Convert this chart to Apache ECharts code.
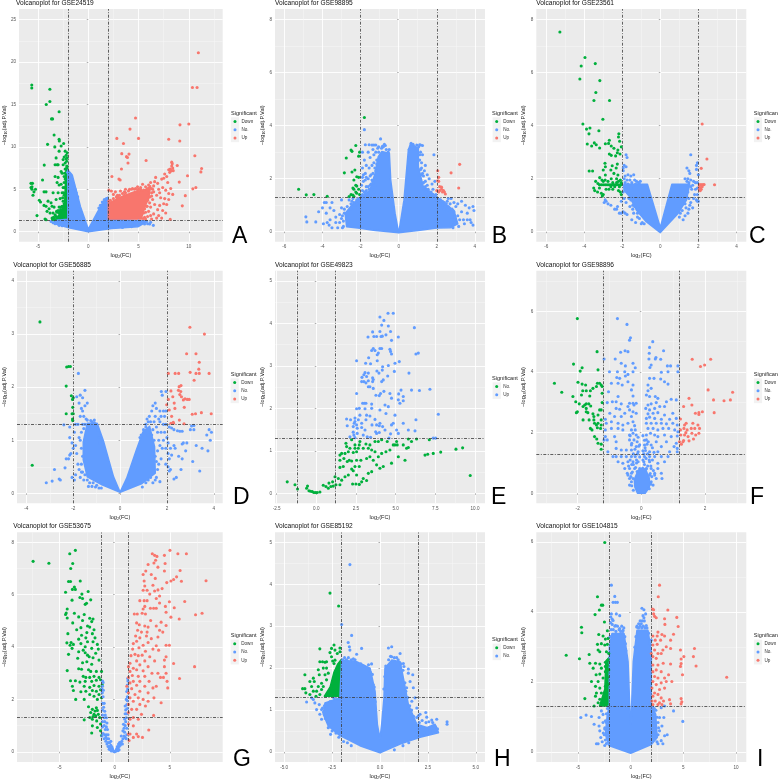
<!DOCTYPE html>
<html><head><meta charset="utf-8">
<style>html,body{margin:0;padding:0;background:#fff}#c{width:778px;height:780px}</style>
<script src="https://cdn.jsdelivr.net/npm/echarts@6/dist/echarts.min.js"></script></head>
<body><div id="c"></div>
<script>
// ---------- Ticks ----------
const xTicksA=[-5,0,5,10], yTicksA=[0,5,10,15,20,25];
const xTicksB=[-6,-4,-2,0,2,4], yTicksB=[0,2,4,6,8];
const xTicksC=[-6,-4,-2,0,2,4], yTicksC=[0,2,4,6,8];
const xTicksD=[-4,-2,0,2,4], yTicksD=[0,1,2,3,4];
const xTicksE=[-2.5,0,2.5,5,7.5,10], yTicksE=[0,1,2,3,4,5];
const xTicksF=[-2,0,2], yTicksF=[0,2,4,6];
const xTicksG=[-5,0,5], yTicksG=[0,2,4,6,8];
const xTicksH=[-5,-2.5,0,2.5,5], yTicksH=[0,1,2,3,4,5];
const xTicksI=[-5,0,5,10], yTicksI=[0,2,4,6];
// ---------- Panel A ----------
const aDown=[[-5.62,17.3],[-5.62,16.95],[-3.82,16.8],[-3.82,15.35],[-4.18,15],[-2.9,14.15],[-3.66,13.3],[-3.55,13.3],[-3.4,11.4],[-2.9,10.9],[-2.88,10.7],[-4.05,10.3],[-3.33,10],[-4.38,7.85],[-3.3,7.9],[-3.1,7.9],[-3,7.9],[-4.55,6.1],[-5.7,5.7],[-5.55,5.7],[-5.7,5.2],[-5.6,5.3],[-5.6,5],[-5.25,5],[-5.4,4.7],[-5.5,4.3],[-5.1,1.9],[-4.4,4.7],[-4.2,4.7],[-4.87,3.7],[-4.75,3.5],[-4.4,3.1],[-4.2,3],[-4,3.6],[-3.7,3.4],[-3.5,4.6],[-3.6,3],[-3.9,2.7],[-4.1,2.4],[-3.8,2.2],[-3.4,2.9],[-3.5,2.2],[-4.3,1.5],[-4.2,1.4],[-3.6,1.6],[-3.4,1.4],[-3.2,3.8],[-3,4.6],[-2.9,5.5],[-3.1,5.8],[-3.3,6.5],[-3,6.4],[-2.7,7.1],[-2.5,7.9],[-2.4,8.8],[-2.3,9.5],[-2.2,9],[-2.1,9.3],[-2.5,8.5],[-2.3,8.1],[-2.6,6.9],[-2.4,6.5],[-2.7,5.6],[-2.5,5.2],[-2.6,4.6],[-2.4,4.3],[-2.8,3.9],[-2.5,3.6],[-2.6,3],[-2.9,2.9],[-2.4,2.8],[-3.1,2.3],[-2.8,2.4],[-2.7,10.1],[-2.45,10.4],[-2.9,9.5],[-3.2,8.7],[-3.5,1.5],[-3.45,1.7],[-3.3,2],[-3.2,1.8],[-3.4,1.6],[-3.15,2.4],[-3,2.5],[-2.9,2.2],[-2.75,2.6],[-2.7,2.9],[-2.5,3],[-2.4,3.3],[-2.55,4],[-2.45,4.6],[-2.35,5.2],[-2.4,5.8],[-2.3,6.2],[-2.35,6.9],[-2.3,7.4],[-2.15,8.3],[-2.1,8.7],[-2.2,8.6],[-3.3,1.4],[-3.55,1.4]];
const aDownRegion=[[-3.3,1.35],[-2.05,1.35],[-2.05,7.8],[-2.2,7.8],[-2.35,3.2],[-2.9,2]];
const aNo=[[6.47,0.75],[5.2,1.1],[-3.5,1.05],[-3.7,1.2],[5.6,0.9],[4.6,0.75],[-2.05,7],[-1.9,6.9],[-1.8,6.75],[-1.7,6.5],[-1.65,6.1],[-1.45,5.5],[-1.3,5],[-1.2,4.6],[-1.05,4.1],[1.8,3.9],[1.6,3.8],[1.4,3.5],[1.2,3.1],[1.05,2.8],[-3,1.25],[-3.2,1.2],[-2.7,1.2],[-3.3,0.95],[-2.6,0.7],[-2.9,0.75],[4.5,1.2],[5,1.25],[5.5,1.15],[5.7,1.2],[6.2,1.1],[3.6,0.75],[3.9,0.7],[4.3,0.6],[4.6,0.85],[3.4,0.5],[5.9,0.95],[6.1,0.9]];
const aNoRegion=[[-2.03,7.27],[-1.6,6.68],[-0.78,2.95],[0,0.28],[0.85,2.16],[1.5,3.54],[1.93,4.05],[1.93,1.45],[3.95,1.38],[5.9,1.26],[4.93,0.59],[2.32,0.39],[0,0],[-1.93,0.47],[-3.24,0.9],[-3.4,1.3],[-2.03,1.45]];
const aUp=[[10.95,21.1],[10.36,17],[10.82,17],[4.7,13.4],[9.12,12.6],[10,12.7],[4.15,12.1],[2.84,11],[5,11],[3.5,10.4],[8,10.9],[9.1,10.7],[3.33,9.2],[3.8,8.85],[4.05,9.15],[3.9,8.75],[3.95,8.1],[5.75,8.4],[10.6,8.95],[3.3,7.4],[8.85,7.8],[11.27,7.45],[11.2,7.05],[9.87,6.6],[2.35,6.5],[3.05,6.2],[3.17,6.1],[9.05,5.85],[10.7,5.2],[10.4,5.05],[9.65,4.25],[9.35,3.05],[8.15,1.45],[8.3,7.74],[8.15,7.4],[8,7.3],[8.35,8],[8.4,7.5],[8.25,7.2],[8.1,7],[8.45,7.2],[8.3,8.2],[6.7,6.4],[6.6,5.9],[6.2,5.8],[6.5,5.4],[6,5.5],[6.9,5.7],[7,5],[7.3,6.2],[7.5,6.3],[7.6,6.8],[7.8,6.5],[7.9,5.8],[7.4,5.2],[7.1,4.6],[7.7,4.9],[7.2,4],[6.8,4.3],[6.3,4.6],[5.9,4.9],[5.7,5.3],[8,4.5],[8.2,5.1],[8.4,4.4],[8,3.8],[7.6,3.9],[7.8,3.2],[7.5,3.3],[7.1,3.1],[7.4,2.5],[6.9,2.6],[6.6,3.2],[6.4,3.8],[6.1,4.1],[5.8,3],[6.2,2.9],[6.5,2.1],[7,1.9],[7.3,1.6],[6.8,1.6],[7.7,2.2],[6.2,1.9],[5.9,1.8],[5.7,2.3],[6,2.4],[5.7,1.5],[6.3,1.5],[5.2,5.2],[5.4,5.6],[4.9,5.3],[4.4,5.1],[4.1,5],[3.7,5],[3.2,4.8],[2.7,4.7],[2.3,4.8],[2.05,4.9],[2.5,4.4],[3.6,4.7],[4.6,5],[5,4.4],[5.5,4.9],[5.9,3.7],[2.9,4.3],[2.2,3.7],[2.5,3.9],[2.8,4.1],[3.1,4.3],[3.4,4.5],[3.7,4.6],[4,4.8],[4.3,5],[4.7,5.1],[5,5],[5.9,4.6],[6.3,4.2],[6.1,3.4],[5.85,3],[5.6,2.7],[5.5,2.2],[5.6,1.7],[5.45,1.55],[2.05,3.6],[2.9,3.9],[3.6,4.3],[4.2,4.4],[3,4.05],[4.9,4.95],[5.2,5],[6.3,5.1],[6.4,5],[6.5,4.7]];
const aUpRegion=[[2,1.5],[2,3.34],[3.3,4.13],[4.6,4.7],[5.6,4.9],[6.2,5.4],[6,3.9],[5.65,3],[5.26,1.5]];
// ---------- Panel B ----------
const bDown=[[-1.8,4.31],[-2.25,3.25],[-2.5,3.08],[-2.45,3.03],[-2.05,3],[-2.1,2.85],[-2.75,2.78],[-2.85,2.22],[-2.45,2.25],[-2.3,2.33],[-2.2,2.07],[-2.1,2.05],[-2.35,1.95],[-2.25,1.75],[-2.2,1.72],[-2.35,1.6],[-2.25,1.5],[-2.1,1.6],[-2.2,1.45],[-2.05,1.4],[-2.4,1.38],[-2.6,1.33],[-2.5,1.4],[-2.35,1.33],[-5.25,1.6],[-4.85,1.39],[-4.45,1.4],[-3.75,1.34],[-2.4,1.65]];
const bNo=[[-1.8,3.85],[-0.95,3.5],[-1.75,3.28],[-1.55,3.28],[-1.4,3.27],[-1.3,3.27],[-1.2,3.27],[-0.75,3.3],[-0.7,3.25],[-0.85,3.22],[1.85,2.9],[0.65,3.33],[0.75,3.3],[0.95,3.27],[1.1,3.28],[1.15,3.27],[1.25,3.25],[-1.9,3],[-1.8,2.7],[-1.7,2.5],[-1.75,2.2],[-1.9,2.4],[-1.6,3],[-1.5,2.8],[-1.4,2.5],[-1.45,2.15],[-1.6,2],[-1.85,1.9],[-1.7,1.7],[-1.9,1.55],[-1.55,1.6],[-1.35,1.9],[-1.3,2.6],[-1.2,2.3],[-1.2,3],[-1.15,2.7],[-1.1,3.15],[-1.35,3.1],[-1.95,1.35],[-1.5,1.4],[-1.3,1.5],[-1.65,1.4],[-1.25,1.75],[-1.05,3.2],[-1.75,1.95],[-1.55,2.4],[-1.85,2.15],[-1.45,1.8],[1.1,2.7],[1.2,2.4],[1.3,2.1],[1.4,1.9],[1.55,1.6],[1.7,1.5],[1.85,1.35],[1.4,2.5],[1.25,2.9],[1.6,2],[1.75,1.8],[1.3,1.55],[1.15,3],[1.5,1.4],[1.9,1.9],[1.95,1.4],[1.1,2.15],[1.35,1.35],[1.65,1.3],[1.05,3.2],[2.05,1.25],[2.2,1.2],[2.4,1.1],[2.6,1.25],[2.75,1.25],[2.9,1.1],[3,0.95],[3.1,1.05],[3.3,1.15],[3.5,1],[3.7,0.9],[3.9,0.95],[3.95,0.8],[3.6,0.7],[3.3,0.75],[3.1,0.6],[2.9,0.75],[2.8,0.55],[2.95,0.35],[3.2,0.45],[3.4,0.45],[3.6,0.45],[3.8,0.35],[3.75,0.45],[3.9,0.25],[3.45,0.3],[3.15,0.2],[2.85,0.25],[2.6,0.95],[2.4,0.85],[2.15,1],[2.3,1],[2.7,1.05],[2.55,0.8],[2.8,0.85],[-2.1,1.25],[-2.4,1.25],[-2.6,1.2],[-3,1.2],[-3.5,1.1],[-3.8,1.1],[-3.9,1.1],[-4,0.9],[-4.2,0.75],[-3.8,0.7],[-3.6,0.9],[-3.4,0.8],[-3.3,0.55],[-3.6,0.45],[-3.5,0.15],[-3.2,0.15],[-3.1,0.35],[-3,0.9],[-2.85,0.85],[-2.9,0.4],[-2.7,0.95],[-2.5,1.05],[-2.3,1],[-3.75,0.35],[-3.65,0.25],[-3.95,0.3],[-4.87,0.56],[-4.82,0.37],[-4.35,0.37],[-3.3,0.35],[-2.95,0.6],[-3.1,0.65],[-2.2,1.15],[-1.05,3],[-0.9,3.15],[-0.8,3.2],[-0.65,3.1],[-0.55,3],[-0.5,3.1],[0.55,3.1],[0.7,3.2],[0.85,3.15],[1,3],[1.1,2.9],[1.2,2.6],[-1.9,1.4],[-1.8,1.5],[-1.7,1.55],[-1.6,1.7],[-1.5,1.75],[-1.4,1.95],[-1.35,2.2],[-1.25,2.4],[-1.15,2.55],[-1.6,1.45],[-1.85,1.35],[-1.75,1.45],[-1.4,1.6],[-1.5,2.1],[-1.3,2.9],[-1.7,2.05],[-1.95,1.75],[-1.9,2.05],[1.15,2.35],[1.2,2.15],[1.3,1.85],[1.4,1.7],[1.5,1.75],[1.6,1.5],[1.7,1.4],[1.8,1.4],[1.9,1.35],[1.45,1.6],[1.25,2.2],[1.35,2.3],[1.5,2.15],[1.8,1.6],[-2.2,1.05],[-2.35,1.1],[-2.5,0.85],[-2.9,0.2],[-3,0.5],[-2.95,0.15],[-2.85,0.7],[-2.45,1.15],[-2.2,1.2],[2.15,1.2],[2.3,1.15],[2.5,1.05],[2.65,0.9],[2.8,0.65],[2.9,0.45],[2.95,0.55],[2.75,0.3],[2.85,0.15],[2.55,1.15]];
const bNoRegion=[[-2.03,1.25],[-1.5,1.57],[-1.24,2.2],[-1.07,2.83],[-0.89,3.02],[-0.49,2.96],[-0.42,1.95],[-0.19,0.69],[-0.03,0.06],[0.03,0.06],[0.28,1.19],[0.51,3.08],[0.63,3.33],[1.03,3.14],[1.03,2.45],[1.29,1.7],[1.99,1.32],[2.4,1.05],[2.9,0.8],[3.1,0.3],[2.7,0.15],[2,0.14],[1.12,0.06],[0,-0.04],[-1.33,0.06],[-2.03,0.13],[-2.73,0.19],[-2.81,0.69],[-2.4,1.05]];
const bUp=[[2.05,2.3],[2.1,2.05],[2.05,1.92],[2.1,1.9],[2,1.55],[2.15,1.7],[2.25,1.6],[2.25,1.68],[2.15,1.55],[2.35,1.55],[2.4,1.5],[2.45,1.42],[2.75,2.22],[3.2,2.54],[3.15,1.65],[2.1,1.5],[2.3,1.5]];
// ---------- Panel C ----------
const cDown=[[-5.28,7.53],[-3.96,6.57],[-4.16,6.25],[-3.42,6.34],[-4.23,5.76],[-3.18,5.7],[-3.39,5.25],[-3.49,4.95],[-2.67,4.95],[-3.02,4.24],[-4.07,4.06],[-3.88,3.87],[-3.7,3.91],[-3.75,3.69],[-3.23,3.81],[-2.18,3.69],[-2.2,3.57],[-2.68,3.45],[-2.14,3.41],[-3.84,3.31],[-3.47,3.35],[-3.37,3.28],[-3.61,3.23],[-3.19,3.16],[-2.89,3.32],[-2.72,3.33],[-2.58,3.23],[-2.44,3.15],[-2.23,3.08],[-2.05,3.2],[-2.26,2.98],[-2.12,2.93],[-2.68,2.93],[-2.58,2.88],[-2.35,2.86],[-2.91,2.58],[-2.89,2.45],[-2.53,2.49],[-2.26,2.55],[-2.32,2.4],[-3,2.33],[-2.6,2.33],[-3.74,2.29],[-3.56,2.29],[-2.89,2.14],[-2.44,2.2],[-3.19,2.04],[-3.07,1.95],[-2.58,2],[-2.23,2.14],[-3.28,1.82],[-3.2,1.77],[-3.1,1.77],[-3,1.77],[-2.9,1.77],[-2.8,1.77],[-2.7,1.77],[-2.6,1.77],[-2.5,1.77],[-2.4,1.77],[-2.3,1.77],[-2.2,1.77],[-2.1,1.77],[-2.05,1.77],[-2.5,1.85],[-2.3,1.85],[-2.2,1.9],[-2.4,1.7],[-2.6,1.7],[-2.15,1.7],[-2.05,1.85],[-2.1,1.95],[-2.3,2],[-3.5,1.65],[-3.45,1.55],[-3.3,1.5],[-3.2,1.65],[-3.1,1.45],[-3,1.4],[-3.05,1.35],[-2.85,1.6],[-2.7,1.6],[-2.5,1.6],[-2.2,1.55],[-2.1,1.5],[-2.05,1.4],[-3.4,1.9],[-3,1.9],[-2.9,1.95],[-2.75,1.9]];
const cNo=[[-1.8,2.9],[-1.75,2.8],[-1.9,2.5],[-1.8,2.45],[-1.95,2.4],[-1.85,2.1],[-1.7,2.15],[-1.55,2.1],[-1.4,2.15],[-1.6,1.95],[-1.75,1.95],[-1.35,1.95],[-1.25,1.9],[-1.9,2],[-1.95,2.3],[-1.9,1.25],[-1.95,1.5],[-1.5,1.3],[-1.45,1],[-1.6,0.95],[-1.4,0.7],[-1.75,0.65],[-1.85,0.7],[-1.95,0.75],[-1.2,0.55],[-1.1,0.5],[-1.5,0.45],[-1.3,0.35],[-1,0.3],[-2.05,0.7],[-2.15,0.7],[-2.3,0.85],[-2.4,0.85],[-2.6,1],[-2.75,1.05],[-2.85,1.15],[-2.9,1.2],[-2.95,1.1],[-2.25,0.95],[-2.05,1.15],[-1.8,1.1],[-1.65,1.45],[-1.55,1.65],[1.6,2.9],[1.4,2.4],[1.5,2.3],[1.55,2.2],[1.95,2.6],[1.3,2],[1.45,2],[1.6,1.95],[1.75,1.9],[1.85,1.85],[1.95,1.85],[2,2.15],[1.9,2.35],[1.9,2.5],[1.65,1.6],[1.8,1.4],[1.9,1.2],[1.95,1.15],[2,1.15],[1.6,1.1],[1.7,0.9],[1.75,1.25],[1.5,0.85],[1.45,0.7],[1.3,0.6],[1.2,0.45],[1.35,0.9],[1.55,1],[1.85,1.6],[1.95,1.65],[1.95,1.4],[-1.85,1.85],[-1.7,1.8],[-1.5,1.85],[-1.3,1.8],[-1.15,1.85],[-1.1,1.8],[-1.05,1.9],[-1.7,1.6],[-1.65,1.25],[-1.55,1.2],[-1.45,0.85],[-1.2,0.7],[-0.95,0.35],[-0.85,0.3],[1.4,1.9],[1.5,1.85],[1.6,1.7],[1.45,1.5],[1.4,1.3],[1.5,1.25],[1.3,1.05],[1.15,0.8],[1.05,0.7],[1,0.55],[1.7,1.75],[-1.9,1.7],[-1.8,1.55],[-1.35,0.95],[-1.15,0.85]];
const cNoRegion=[[-1.91,1.79],[-0.68,1.79],[0,0.15],[0.61,1.79],[1.54,1.79],[1.37,1.19],[0.93,0.69],[0,-0.03],[-0.74,0.38],[-1.26,0.82],[-1.61,1.32],[-1.91,1.57]];
const cUp=[[2.2,4.06],[2.45,2.74],[2.15,2.39],[2.05,1.77],[2.1,1.77],[2.15,1.77],[2.2,1.77],[2.25,1.77],[2.3,1.78],[2.85,1.77],[2.05,1.7],[2.1,1.65],[2.15,1.6],[2.1,1.55],[2.05,1.6],[2.2,1.7]];
// ---------- Panel D ----------
const dDown=[[-3.42,3.23],[-2.2,2.39],[-2.12,2.39],[-2.28,2.38],[-2.3,2.02],[-2.08,1.84],[-2,1.8],[-2.03,1.77],[-2.02,1.62],[-2.3,1.5],[-2.05,1.5],[-2,1.5],[-2.03,1.4],[-2.02,1.37],[-3.75,0.53]];
const dNo=[[-1.78,2.26],[-1.5,1.94],[1.96,1.92],[1.76,1.92],[1.8,1.85],[-1.85,1.82],[-1.7,1.85],[-1.6,1.8],[-1.75,1.7],[-1.65,1.6],[-1.6,1.55],[-1.5,1.65],[-1.4,1.7],[-1.55,1.45],[-1.45,1.4],[-1.7,1.45],[-1.9,1.3],[-1.8,1.3],[-1.2,1.35],[-1.1,1.33],[-1.05,1.3],[-2.4,1.29],[-2.15,1.25],[-1.95,1.15],[-2.15,1.05],[-2.05,0.95],[-1.9,0.9],[-1.75,1.05],[-1.85,0.75],[-2,0.85],[-2.1,0.75],[-2.15,0.72],[-2.3,0.65],[-2.2,0.65],[-2.35,0.48],[-1.8,0.55],[-1.75,0.45],[-1.65,0.4],[-1.7,0.3],[-1.55,0.25],[-1.4,0.25],[-1.35,0.13],[-1.2,0.13],[-1.05,0.12],[-1.9,0.35],[-2.05,0.3],[-1.95,0.25],[-2.8,0.45],[-2.9,0.23],[-3.15,0.2],[-2.6,0.27],[-2.55,0.25],[1.7,1.35],[1.5,1.7],[1.4,1.65],[1.35,1.55],[1.55,1.6],[1.7,1.55],[1.85,1.55],[1.95,1.55],[1.9,1.45],[1.75,1.45],[1.65,1.4],[1.2,1.35],[1.1,1.3],[1.85,1.3],[1.95,1.3],[1.6,1.15],[1.75,1.15],[1.9,1.15],[2,1.05],[1.85,1],[2.05,0.95],[1.95,0.85],[1.8,0.85],[2.05,0.75],[2.1,0.65],[2.15,0.85],[2.2,0.72],[1.75,0.65],[1.95,0.55],[2.05,0.5],[2.1,0.42],[2.15,0.45],[1.65,0.55],[1.6,0.45],[1.55,0.3],[1.7,0.22],[2.4,0.3],[2.3,0.27],[2.1,1.25],[2.2,1.23],[2.3,1.2],[2.45,1.18],[2.55,1.17],[2.65,1.17],[3,1.2],[3.15,1.2],[3.15,1.28],[3.05,1.27],[3.8,1.2],[3.9,1.15],[3.7,1.1],[3.85,1],[2.3,0.9],[2.35,0.85],[2.5,0.7],[2.65,0.65],[2.6,0.45],[2.8,0.8],[2.65,0.93],[2.7,0.95],[3.1,0.6],[3.4,0.42],[3.75,0.8],[3.5,0.85],[3.25,0.9],[2.85,0.95],[1.1,1.25],[1.2,1.1],[1.35,1.1],[1.45,1],[1.5,0.7],[1.6,0.8],[1.55,0.6],[1.4,1.2],[1.3,1.35],[1,1.2],[0.9,1.1],[0.85,1.05],[1.25,1.45],[1.15,1.4],[1.45,1.35],[1.55,1.25],[1.5,1.45],[1.65,1],[1.7,0.9],[1.3,0.3],[1.2,0.25],[1.1,0.2],[1.4,0.2],[0.95,0.12],[1.5,0.25],[-1.6,1.3],[-1.65,1.15],[-1.7,1],[-1.65,0.85],[-1.6,0.7],[-1.65,0.55],[-1.6,0.4],[-1.5,0.35],[-1.3,0.2],[-1.15,0.2],[-1,0.15],[-0.9,0.1],[-0.8,0.1],[-1.4,1.38],[-1.25,1.37],[-1.1,1.38],[-1.5,1.3],[-1.55,1.22],[-0.95,1.2],[-0.9,1.05],[-0.85,0.95],[-0.7,0.75]];
const dNoRegion=[[0,0.02],[-0.77,0.16],[-1.4,0.31],[-1.57,0.63],[-1.57,0.97],[-1.4,1.32],[-0.98,1.32],[-0.7,0.97],[-0.28,0.31],[0,0.02],[0.28,0.28],[0.7,0.82],[0.98,1.16],[1.26,1.26],[1.47,0.88],[1.5,0.38],[0.91,0.18]];
const dUp=[[2.98,3.13],[3.6,3],[2.84,2.63],[3.24,2.63],[3.38,2.47],[3.36,2.34],[2.35,2.26],[2.5,2.26],[2.06,2.26],[2.99,2.28],[3.24,2.26],[3.38,2.26],[3.8,2.26],[3.16,2.13],[2.52,2.01],[2.6,2.03],[2.17,1.93],[2.49,1.94],[2.59,1.92],[2.55,1.86],[2.25,1.82],[2.62,1.82],[2.06,1.77],[2.7,1.76],[2.77,1.78],[2.87,1.77],[2.95,1.77],[2.31,1.7],[1.99,1.67],[2.74,1.62],[2.34,1.6],[2.1,1.57],[3.08,1.49],[3.22,1.5],[3.47,1.52],[3.89,1.5],[2.2,1.45],[2.53,1.38],[2.17,1.32],[2.28,1.32],[2.27,1.34],[2.73,1.31]];
// ---------- Panel E ----------
const eUp=[[4.52,4.24],[4.85,4.24],[4.01,4.15],[4.26,4.07],[6.18,3.9],[4.12,3.96],[4.54,3.94],[3.55,3.8],[4.01,3.81],[4.68,3.81],[4.39,3.73],[3.26,3.68],[3.63,3.69],[3.8,3.69],[4.08,3.69],[4.16,3.7],[5.17,3.68],[4.74,3.6],[3.59,3.41],[4.01,3.41],[4.12,3.41],[3.49,3.36],[3.7,3.36],[4.64,3.39],[4.68,3.34],[3.91,3.3],[3.84,3.26],[4.74,3.28],[6.43,3.3],[6.28,3.28],[3.3,3.19],[2.54,3.12],[3.84,3.12],[5.23,3.1],[4.96,3.06],[3.11,3.06],[3.42,3.05],[4.54,3.01],[4.18,2.98],[4.16,2.9],[3.82,2.88],[4.92,2.87],[3.07,2.84],[3.95,2.83],[5.84,2.83],[3.28,2.83],[3,2.79],[3.17,2.75],[2.88,2.73],[3.55,2.72],[3.59,2.68],[4.22,2.67],[4.12,2.63],[4.5,2.76],[3,2.63],[3.13,2.6],[3.28,2.65],[3.55,2.63],[2.86,2.63],[3.59,2.47],[3.28,2.51],[3.38,2.51],[4.26,2.4],[4.05,2.35],[4.64,2.35],[2.54,2.35],[5.34,2.43],[6,2.43],[6.5,2.42],[7.16,2.45],[5.19,2.34],[5.48,2.28],[3.76,2.31],[3.97,2.3],[4.74,2.24],[5.17,2.2],[5.48,2.18],[5.27,2.12],[2.92,2.12],[3.03,2.12],[3.13,2.12],[3.49,2.1],[4.33,2.08],[2.71,2],[2.54,1.99],[3.07,1.99],[3.49,2],[4.01,1.96],[4.54,2.04],[7.69,1.86],[4.96,1.84],[4.39,1.88],[1.91,1.75],[2.16,1.73],[2.44,1.77],[2.75,1.84],[3.17,1.84],[3.38,1.82],[3.7,1.74],[6.28,1.73],[5.48,1.65],[4.85,1.65],[4.01,1.65],[1.95,1.59],[2.44,1.69],[2.65,1.73],[2.39,1.65],[2.54,1.61],[2.33,1.57],[2.58,1.53],[2.86,1.65],[3.13,1.73],[3.51,1.61],[3.8,1.61],[3.97,1.59],[4.18,1.57],[4.74,1.61],[2.86,1.55],[3.07,1.49],[2.33,1.44],[2.58,1.41],[3.74,1.45],[3.97,1.43],[4.33,1.49],[5.06,1.49],[5.8,1.49],[6.22,1.47],[2.37,1.37],[2.12,1.33],[2.96,1.37],[3.42,1.32],[3.8,1.41],[4.68,1.4],[5.17,1.41],[2.44,1.31],[3.21,1.33],[7.52,1.3],[7.37,1.3],[4.58,1.3]];
const eNo=[[-1.83,0.27],[-1.34,0.2],[-1.18,0.1],[-0.61,0.12],[-0.55,0.17],[-0.46,0.06],[-0.36,0.05],[-0.25,0.04],[-0.15,0.02],[-0.04,0.02],[0.06,0.02],[0.23,0.03],[0.44,0.19],[0.61,0.16],[0.76,0.12],[0.8,0.24],[0.92,0.16],[1.03,0.27],[1.07,0.17],[1.18,0.39],[1.24,0.2],[1.39,0.35],[1.49,0.2],[1.6,0.31],[1.81,0.39],[1.49,0.61],[1.7,0.63],[2.02,0.43],[2.29,0.22],[2.5,0.22],[2.71,0.21],[2.86,0.27],[3.17,0.3],[2.96,0.35],[3.28,0.47],[3.49,0.51],[2.54,0.43],[2.33,0.53],[2.23,0.57],[2.44,0.63],[2.71,0.63],[1.95,0.75],[1.49,0.78],[2.08,0.78],[2.23,0.76],[2.54,0.78],[2.81,0.78],[3.17,0.82],[1.49,0.9],[1.6,0.94],[1.81,0.94],[2.02,0.98],[2.33,0.96],[2.54,0.98],[2.65,1.06],[2.44,1.06],[2.71,1.14],[3.28,1.06],[3.49,1.02],[3.7,0.98],[3.91,0.86],[4.12,0.94],[4.39,0.98],[4.64,1.02],[4.96,1.14],[5.1,1.14],[5.59,0.78],[5.17,0.86],[4.74,0.71],[4.22,0.63],[4.01,0.59],[3.8,0.67],[3.59,0.78],[3.38,0.86],[5.69,1.06],[5.8,1.08],[6,1.22],[5.8,1.28],[6.32,1.28],[7.12,1.26],[6.85,0.9],[7.02,0.92],[7.37,0.94],[7.84,0.97],[8.8,1.04],[9.22,1.07],[9.7,0.42],[1.87,1.18],[2.12,1.06],[2.75,1.22],[3.13,1.16],[3.38,1.14],[3.7,1.22],[3.91,1.22],[4.12,1.26],[4.47,1.22],[4.85,1.14],[5.06,1.22],[5.48,1.14],[2.23,1.26],[2.44,1.14],[2.96,1.06],[1.91,1.1],[1.74,0.82]];
// ---------- Panel F ----------
const fDown=[[-2.01,5.76],[-1.39,4.67],[-2.13,4.26],[-1.86,4.14],[-1.92,4.03],[-1.36,4.07],[-2.73,3.63],[-1.99,3.66],[-2.5,3.33],[-2.15,3.19],[-1.86,3.6],[-1.75,3.57],[-1.84,3.38],[-1.73,3.38],[-1.6,3.38],[-1.52,3.46],[-1.41,3.52],[-1.38,3.63],[-1.31,3.63],[-1.26,3.57],[-1.23,3.52],[-1.88,3.24],[-1.62,3.21],[-1.23,3.3],[-2.06,3.02],[-1.95,2.95],[-1.83,2.86],[-1.78,2.91],[-1.73,2.95],[-1.65,2.95],[-1.59,2.88],[-1.73,2.8],[-1.73,2.69],[-2.01,2.69],[-2.04,2.66],[-1.68,2.66],[-1.23,2.99],[-1.52,2.62],[-1.31,2.75],[-1.26,2.75],[-1.49,2.53],[-1.36,2.58],[-1.83,2.42],[-1.64,2.42],[-1.49,2.42],[-1.47,2.31],[-1.41,2.25],[-1.36,2.31],[-1.26,2.42],[-1.26,2.25],[-1.28,2.14],[-1.38,2.16],[-1.6,2.14],[-1.55,2.09],[-1.47,1.87],[-1.36,1.65],[-1.26,1.62],[-1.26,1.45],[-1.4,1.79]];
const fNo=[[-0.75,5.76],[-0.45,5.57],[-0.34,5.13],[-0.37,5.05],[0.36,5],[0.26,4.81],[-0.51,4.7],[-0.42,4.67],[-0.65,4.65],[0.7,4.7],[0.25,4.62],[0.46,4.48],[0.44,4.43],[0.24,4.43],[0.61,4.42],[-0.82,4.43],[-1.17,4.43],[-0.26,4.29],[-0.63,4.29],[-0.5,4.2],[0.31,4.23],[0.27,4.15],[0.82,4.2],[0.92,4.2],[1.15,4.2],[-0.19,4.14],[-1,4.01],[-0.75,4.01],[-0.52,4.01],[-0.42,3.92],[-0.26,4.01],[0.84,4.01],[1.15,4.01],[0.63,3.99],[-0.77,3.82],[-0.68,3.79],[-0.5,3.87],[0.26,3.79],[0.4,3.79],[0.61,3.77],[0.73,3.68],[0.84,3.6],[-0.42,3.68],[-0.26,3.57],[-0.94,3.63],[-0.73,3.63],[-0.6,3.57],[0.21,3.57],[0.31,3.46],[-0.31,3.41],[0.21,3.38],[0.16,3.24],[0.44,3.19],[0.94,3.1],[0.52,3.13],[0.26,3.19],[-0.26,3.21],[-1.03,3.35],[-0.73,3.19],[-1.07,2.99],[-0.91,3.02],[-0.79,3.02],[-0.63,2.95],[-0.37,2.97],[-0.26,2.97],[-0.16,2.97],[-0.42,2.86],[-0.23,2.91],[0.47,2.99],[0.31,2.95],[0.21,2.91],[0.14,2.8],[1.1,3.08],[0.79,3.02],[0.73,2.86],[0.58,2.86],[0.42,2.8],[0.26,2.75],[-0.79,2.8],[-0.68,2.77],[-0.37,2.75],[-0.26,2.69],[-0.52,2.64],[-0.99,2.64],[-1.13,2.44],[-0.84,2.53],[-0.63,2.53],[-0.31,2.53],[-0.16,2.64],[0.21,2.62],[0.37,2.64],[0.52,2.66],[0.73,2.58],[0.99,2.64],[1.1,2.47],[0.26,2.51],[0.16,2.47],[0.42,2.47],[0.63,2.44],[0.89,2.44],[-1.1,2.31],[-0.94,2.36],[-0.73,2.31],[-0.58,2.25],[-0.42,2.31],[-0.26,2.36],[-0.21,2.23],[0.16,2.31],[0.31,2.31],[0.47,2.31],[0.63,2.31],[0.79,2.29],[0.99,2.31],[1.13,2.25],[0.21,2.14],[0.37,2.14],[0.52,2.09],[0.68,2.14],[0.86,2.14],[1.05,2.09],[1.15,2.03],[-1.13,2.09],[-0.94,2.14],[-0.73,2.14],[-0.58,2.09],[-0.31,2.09],[-0.19,2.09],[-0.26,1.98],[-0.37,1.92],[-0.16,1.92],[0.16,1.92],[0.29,1.98],[0.42,1.92],[0.52,1.87],[0.73,1.92],[0.94,1.87],[1.13,1.89],[-1.13,1.87],[-1.17,1.76],[-1.07,1.76],[-0.84,1.87],[-0.79,1.7],[-0.37,1.76],[-0.23,1.76],[-0.13,1.7],[0.16,1.76],[0.47,1.7],[0.79,1.7],[1.1,1.65],[-0.31,1.59],[-0.16,1.54],[0.1,1.59],[0.31,1.59],[0.63,1.54],[1.03,1.54],[1.13,1.48],[-0.79,1.48],[-1.05,1.37],[-0.63,1.43],[-0.47,1.43],[-0.31,1.43],[-0.1,1.37],[0.13,1.41],[0.26,1.37],[0.52,1.37],[0.89,1.37],[1.13,1.37],[-0.89,1.21],[-0.79,1.21],[-0.63,1.21],[-0.47,1.21],[-0.31,1.21],[-0.19,1.21],[0.1,1.21],[0.26,1.21],[0.42,1.21],[0.63,1.21],[0.84,1.21],[-0.73,1.04],[-0.58,0.99],[-0.42,1.04],[-0.26,1.04],[-0.1,1.04],[0.08,1.04],[0.26,1.04],[0.52,0.99],[0.73,1.04],[-0.52,0.82],[-0.37,0.82],[-0.21,0.82],[-0.05,0.82],[0.16,0.82],[0.31,0.82],[0.52,0.82],[0.63,0.66],[0.42,0.66],[0.26,0.6],[-0.31,0.66],[-0.44,0.66],[-0.26,0.49],[-0.37,0.49],[0.47,0.49],[0.65,0.49],[0.31,0.38],[-0.31,0.38],[0.37,0.27],[-0.37,0.27],[-0.35,1.9],[-0.3,1.65],[-0.25,1.3],[-0.2,1.45],[-0.15,1.1],[-0.12,1.3],[-0.08,1.55],[-0.05,1.2],[0.05,1.1],[0.08,1.3],[0.12,1.5],[0.15,1.15],[0.2,1.3],[0.22,1.7],[0.25,1.1],[0.3,0.9],[0.35,1.1],[0.35,1.5],[0.4,1.35],[-0.3,0.95],[-0.35,1.1],[-0.4,0.9],[-0.28,0.7],[-0.15,1],[0.1,0.95],[0.2,0.9],[0.38,0.75],[0.42,0.6],[0.33,0.55],[-0.33,0.55],[-0.42,0.6],[-0.25,0.95],[0.05,1.9],[0.1,1.75],[-0.1,1.85],[0.18,1.62],[0.05,1.4],[-0.05,1.6],[0.28,0.65],[-0.18,0.85],[0.3,0.3],[0.25,0.15],[-0.3,0.25],[-0.25,0.1],[0.15,0.8],[-0.13,0.72]];
const fNoRegion=[[-0.12,0],[0.12,0],[0.25,0.2],[0.25,0.5],[0.15,0.75],[0.05,0.85],[-0.1,0.75],[-0.22,0.45],[-0.2,0.2]];
const fUp=[[1.6,4.42],[2.18,4.42],[1.99,4.23],[1.86,4.18],[2.1,3.41],[2.87,3.33],[2.27,3.08],[2.6,3.05],[2.8,3.08],[1.5,3.13],[1.59,2.91],[1.33,2.86],[2.29,2.66],[1.92,2.69],[1.81,2.66],[1.7,2.64],[1.81,2.6],[1.23,2.45],[1.41,2.31],[1.62,2.31],[1.36,2.25],[1.78,2.25],[1.83,2.14],[1.34,2.14],[1.57,2.14],[1.68,2.14],[1.44,2.09],[1.4,2],[1.23,2.09],[1.59,1.98],[1.81,1.98],[1.71,1.92],[1.36,1.92],[1.47,1.87],[1.24,1.92],[1.64,1.79],[1.5,1.73],[1.33,1.74],[1.26,1.62],[1.31,1.7],[1.2,1.7]];
// ---------- Panel G ----------
const gDown=[[-7.39,7.27],[-5.96,7.2],[-3.56,7.69],[-4.07,7.56],[-3.8,7.19],[-3.98,7],[-3.12,6.52],[-4.18,6.5],[-4,6.5],[-3.65,6.29],[-3.83,6.2],[-3.56,6.2],[-4.45,6.09],[-2.4,6.12],[-2.97,6.02],[-3.15,5.89],[-2.91,5.85],[-3.86,5.79],[-2.17,5.8],[-2.55,5.67],[-2.67,5.63],[-4.3,5.45],[-4.39,5.3],[-4.45,5.24],[-3.65,5.29],[-2.76,5.24],[-4.3,5.11],[-3.26,5.15],[-1.96,5.07],[-2.26,5.1],[-3.8,4.92],[-2.91,5.01],[-2.08,4.97],[-2.46,4.8],[-2.26,4.76],[-3.06,4.74],[-3.44,4.66],[-1.87,4.66],[-4.24,4.51],[-2.52,4.55],[-2.02,4.51],[-3,4.45],[-1.78,4.35],[-2.61,4.35],[-3.26,4.3],[-1.96,4.2],[-4.33,4.16],[-3.95,4.17],[-4.04,4.07],[-3.74,4.1],[-3.06,4.13],[-2.46,4.2],[-1.57,4.1],[-3.86,3.95],[-2.67,4.01],[-1.48,3.92],[-2.85,3.88],[-2.08,3.95],[-2.67,3.78],[-4.18,3.72],[-3.26,3.82],[-1.72,3.76],[-2.46,3.69],[-2.31,3.63],[-3.35,3.57],[-1.96,3.59],[-2.52,3.44],[-2.91,3.4],[-2.08,3.34],[-1.42,3.5],[-4.3,3.1],[-3.26,3.17],[-3,3.15],[-2.37,3.13],[-2.17,3.07],[-1.66,3.07],[-1.19,3.07],[-2.85,2.88],[-2.61,2.84],[-2.26,2.84],[-1.87,2.88],[-1.42,2.84],[-4,2.71],[-3.56,2.71],[-3.15,2.66],[-2.67,2.69],[-2.08,2.69],[-1.66,2.73],[-1.28,2.75],[-3.83,2.5],[-2.76,2.5],[-2.26,2.46],[-1.87,2.53],[-1.42,2.5],[-1.13,2.56],[-3.74,2.34],[-3.06,2.29],[-2.61,2.31],[-2.02,2.34],[-1.66,2.31],[-1.28,2.37],[-3.53,2],[-2.76,2],[-2.26,2.19],[-1.87,2.12],[-1.42,2.19],[-1.57,2],[-1.19,2.06],[-2.37,1.72],[-2.02,1.62],[-1.66,1.68],[-1.57,1.58],[-2.17,1.5],[-1.87,1.43],[-2.26,1.31],[-2.02,1.24],[-1.72,1.37],[-1.36,1.31],[-2.76,1.22],[-1.63,1.18],[-1.28,1.06],[-2.02,0.99],[-1.57,0.93],[-2.08,0.72],[-1.28,0.8],[-1.19,0.62],[-1.78,1.56],[-1.96,1.35],[-1.48,1.43]];
const gNo=[[-1.1,2.7],[-1.05,2.65],[-1.1,2.5],[-1.15,2.4],[-1.02,2.35],[-1.12,2.25],[-1.05,2.1],[-0.95,1.85],[-1.1,1.85],[-1,1.7],[-0.9,1.55],[-1.1,1.6],[-0.85,1.4],[-1.1,1.4],[-0.95,1.3],[-0.75,1.3],[-0.9,1.15],[-1.1,1.15],[-0.7,1.1],[-0.95,1],[-0.75,0.95],[-1.1,0.95],[-0.85,0.85],[-0.65,0.85],[-1.05,0.7],[-0.9,0.65],[-0.75,0.65],[-0.6,0.65],[-1.15,0.6],[-0.95,0.5],[-0.7,0.5],[-0.55,0.5],[-0.8,0.4],[-0.6,0.35],[-0.45,0.35],[-0.7,0.3],[-0.5,0.2],[-0.35,0.25],[-0.4,0.15],[-0.3,0.1],[-0.2,0.05],[-0.1,0.02],[0,0],[0.1,0.02],[0.2,0.05],[0.3,0.12],[0.4,0.2],[0.5,0.25],[0.55,0.35],[0.45,0.35],[0.65,0.4],[0.75,0.5],[0.6,0.6],[0.85,0.6],[0.95,0.55],[1.05,0.5],[1.1,0.65],[0.9,0.75],[0.75,0.8],[0.85,0.9],[0.95,1],[1.1,0.9],[0.8,1.05],[1,1.15],[0.9,1.25],[1.05,1.3],[0.95,1.45],[1.1,1.45],[1,1.6],[1.15,1.65],[1.1,1.8],[0.95,1.75],[1.15,1.95],[1.05,2],[1.15,2.1],[1.1,2.3],[1.18,2.4],[1.15,2.55],[1.2,2.7],[1.18,2.8],[-0.6,0.2],[-0.5,0.1],[-0.4,0.08],[-0.3,0.03],[-0.2,0.12],[0.2,0.12],[0.3,0.04],[0.4,0.08],[0.35,0.3],[-0.35,0.4],[-0.25,0.18],[0.25,0.2],[0.15,0.08],[-0.15,0.06],[0.7,0.3],[-0.8,0.55]];
const gUp=[[5.01,7.69],[3.41,7.56],[3.62,7.5],[3.83,7.46],[4.51,7.5],[5.73,7.56],[6.5,7.56],[3.03,7.15],[3.71,7.31],[3.56,7.21],[4.57,7.19],[3.92,7.05],[2.82,6.9],[2.58,6.77],[3.32,6.77],[4.51,6.9],[5.93,6.92],[5.61,6.68],[5.34,6.58],[5.1,6.52],[6.05,6.51],[8.28,6.53],[2.67,6.52],[3.68,6.62],[2.73,6.33],[3.47,6.36],[4.72,6.46],[2.58,6.17],[2.94,6.17],[4.3,6.23],[3.92,6.18],[3.62,6.14],[3.18,6.02],[4.07,5.95],[3.77,5.85],[2.67,5.77],[2.94,5.77],[4.96,5.73],[6.35,5.74],[2.28,5.77],[4.07,5.68],[4.6,5.55],[2.73,5.55],[3.24,5.48],[3.53,5.48],[3.77,5.48],[2.58,5.45],[5.4,5.5],[4.66,5.33],[2.49,5.29],[2.79,5.26],[1.78,5.26],[2.05,5.26],[7.92,5.29],[7.33,5.23],[5.1,5.14],[5.85,5.07],[4.21,4.95],[3.26,5.01],[1.99,4.92],[2.23,4.85],[2.73,4.8],[3.03,4.76],[3.77,4.8],[4.66,4.82],[2.08,4.64],[2.43,4.57],[2.94,4.57],[4.07,4.64],[4.36,4.57],[1.9,4.42],[2.28,4.35],[2.88,4.42],[3.32,4.32],[3.92,4.38],[1.69,4.13],[1.99,4.22],[2.58,4.07],[3.03,4.17],[3.77,4.05],[4.66,4.07],[4.96,4.07],[1.63,3.92],[2.2,3.97],[2.79,3.84],[3.47,3.92],[3.98,3.88],[1.84,3.72],[2.14,3.67],[1.48,3.67],[2.49,3.69],[3.18,3.63],[4.66,3.63],[1.99,3.47],[1.39,3.38],[2.73,3.47],[3.62,3.47],[4.51,3.5],[5.34,3.37],[7.24,3.25],[2.28,3.32],[3.03,3.25],[1.69,3.19],[1.25,3.25],[4.51,3.25],[1.99,3.13],[2.58,3.09],[1.39,3.07],[3.92,3],[3.38,3],[4.66,3],[1.6,2.91],[2.14,2.88],[2.73,2.88],[1.25,2.84],[4.15,2.84],[4.42,2.84],[5.88,2.8],[1.69,2.69],[3.12,2.69],[2.28,2.69],[1.39,2.63],[4.75,2.69],[1.99,2.54],[2.73,2.5],[1.1,2.5],[3.47,2.44],[3.77,2.5],[4.81,2.44],[1.54,2.41],[2.28,2.31],[1.25,2.25],[1.84,2.19],[3.03,2.25],[1.39,2.06],[2.14,2.06],[2.58,2],[3.56,2.06],[1.69,1.93],[3.03,1.93],[2.28,1.81],[1.25,1.81],[2.79,1.75],[4.21,1.87],[1.54,1.62],[1.99,1.62],[1.25,1.5],[2.43,1.43],[3.53,1.39],[1.69,1.31],[1.39,1.24],[2.14,1.24],[1.25,1.06],[1.69,0.99],[3.09,0.83],[1.99,0.68],[2.52,0.55],[1.39,0.68],[1.31,0.43],[1.25,0.68],[2.14,0.58],[1.69,0.55]];
// ---------- Panel H ----------
const hDown=[[-2.61,3.79],[-2.16,3.48],[-3.14,2.46],[-2.4,2.55],[-2.53,2.47],[-2.09,2.48],[-2.35,2.43],[-2.61,2.37],[-2.23,2.35],[-2.09,2.39],[-2.53,2.27],[-3.14,2.15],[-3,2.15],[-2.87,2.14],[-2.79,2.15],[-2.47,2.17],[-2.35,2.19],[-2.4,2.11],[-3.92,1.84],[-3.22,1.96],[-2.96,2],[-2.79,2],[-3.48,1.76],[-3.66,1.68],[-3.43,1.68],[-3.17,1.84],[-2.87,1.84],[-2.7,1.88],[-2.79,1.72],[-3.05,1.64],[-4.04,1.51],[-3.92,1.51],[-3.87,1.41],[-3.57,1.56],[-3.31,1.45],[-3.05,1.49],[-3.22,1.56],[-3.34,1.33],[-3.14,1.37],[-2.96,1.56],[-3.48,1.45],[-3.66,1.37]];
const hDownRegion=[[-2.03,1.33],[-2.9,1.33],[-2.6,1.55],[-2.4,1.9],[-2.2,2.1],[-2.03,2.2]];
const hNo=[[-1.57,4.47],[-2,3.04],[-1.48,2.78],[-1.66,2.61],[-1.6,2.51],[-0.96,2.47],[-1.57,2.43],[0.61,2.51],[0.44,2.48],[-1.22,2.33],[-1.39,2.22],[-0.44,2.1],[1.22,2.11],[1.48,1.98],[1.71,1.84],[1.05,2.35],[0.61,2.27],[0.87,2.25],[1.25,2.04],[1.48,1.88],[1.57,1.68],[1.39,1.53],[1.74,1.53],[1.83,1.29],[1.66,1.21],[1.92,1.05],[1.6,0.97],[2,0.86],[2.09,0.9],[2.44,0.83],[2.7,0.76],[2.96,0.78],[3.5,0.72],[3.5,0.66],[2.39,0.94],[1.92,0.82],[-3.83,1.19],[-3.48,1.25],[-3.31,1.01],[-3.14,0.9],[-3.05,0.78],[-2.7,0.58],[-2.58,0.42],[-3.57,1.29],[-3.4,1.17],[-3.17,1.13],[-3.05,1.01],[-1.95,2.2],[-1.85,2.25],[-1.75,2.2],[-1.65,2.25],[-1.5,2.2],[-1.4,2.15],[-1.3,2.2],[-1.15,2.1],[-1,2.1],[-0.85,2.05],[-0.7,2],[-0.6,2.08],[-0.5,1.9],[-0.4,1.85],[-0.35,1.6],[-0.3,1.55],[-0.25,1.2],[0.2,1.5],[0.25,1.8],[0.3,2.05],[0.45,2.2],[0.55,2.28],[0.75,2.25],[0.95,2.2],[1.1,2.1],[1.2,1.95],[1.3,1.65],[1.35,1.45],[1.45,1.3],[1.55,1.1],[1.65,1],[1.75,0.85],[2.05,0.7],[2.2,0.75],[2.4,0.7],[2.55,0.72],[2.75,0.7],[2.9,0.6],[3,0.55],[2.6,0.5],[2.3,0.45],[1.9,0.4],[-2.2,1.25],[-2.4,1.28],[-2.6,1.2],[-2.75,1.15],[-2.9,1.1],[-3,1.05],[-2.95,0.95],[-2.85,0.8],[-2.65,0.7],[-2.5,0.5],[-2.3,0.45],[-2.15,0.35],[-1.9,0.25],[-1.7,0.22],[-1.5,0.15],[0.75,0.05],[1.2,0.15],[1.5,0.22]];
const hNoRegion=[[-2.09,1.29],[-2,2.19],[-1.22,2.15],[-0.52,2],[-0.26,1.45],[-0.14,0.66],[0,0.31],[0.09,0.66],[0.21,1.29],[0.26,2],[0.61,2.19],[1.05,2.15],[1.22,1.76],[1.48,1.13],[1.92,0.66],[2.44,0.58],[2.87,0.66],[3.05,0.46],[2.09,0.35],[1.05,0.19],[0,-0.02],[-1.05,0.15],[-2.09,0.39],[-2.7,0.62],[-2.96,0.9],[-2.87,1.17]];
// ---------- Panel I ----------
const iDown=[[-2.46,5.99],[-3.15,4.44],[-2.78,4.2],[-2.65,4.2],[-2.97,4.06],[-3.38,3.93],[-2.49,3.72],[-4.67,3.57],[-4.64,3.41],[-3.03,3.36],[-2.21,3.47],[-2.62,3.32],[-2.4,3.23],[-2.14,3.25],[-3.15,3.08],[-2.46,3.06],[-2.21,3.08],[-2.78,3.1],[-6.12,2.77],[-4.86,2.67],[-3.94,2.79],[-3.09,2.92],[-2.93,2.87],[-2.3,2.87],[-2.08,2.82],[-3.88,2.54],[-3.34,2.54],[-2.93,2.52],[-2.4,2.57],[-2.14,2.63],[-3.56,2.4],[-2.78,2.4],[-2.4,2.45],[-2.21,2.49],[-3.28,2.21],[-2.93,2.23],[-2.4,2.3],[-2.08,2.35],[-3.72,2.02],[-3.09,2.02],[-2.62,2.12],[-2.21,2.14],[-3.34,1.88],[-2.93,1.83],[-2.4,1.88],[-2.14,1.93],[-3.25,1.69],[-2.78,1.69],[-2.4,1.74],[-4.35,1.53],[-3.34,1.6],[-2.93,1.51],[-3.47,1.32],[-3.09,1.41]];
const iDownRegion=[[-2.95,1.32],[-2.05,1.32],[-2.05,2.7],[-2.35,2.6],[-2.45,1.8]];
const iNo=[[-1.83,4.77],[-1.51,4.45],[-1.67,4.28],[-1.45,4.28],[-1.26,4.28],[-1.83,3.95],[-1.36,3.95],[-1.89,3.86],[-1.67,3.76],[-1.04,3.9],[1.07,4.11],[1.26,4.07],[1.42,3.95],[1.17,3.9],[1.26,3.84],[0.76,3.67],[1.01,3.67],[1.48,3.62],[0.6,3.57],[-1.42,3.62],[-1.04,3.53],[-0.73,3.48],[-4.73,0.99],[-4.23,1.06],[-3.72,1.02],[-3,0.99],[-3.47,0.8],[-3,0.75],[-2.78,1.18],[-2.62,1.08],[-2.93,0.61],[-2.62,0.85],[-3.25,0.24],[-3.09,0.24],[-2.84,0.42],[-2.46,0.19],[-2.3,0.85],[-2.46,0.66],[4.07,1.18],[4.95,0.88],[3.22,1.32],[2.9,1.27],[2.74,0.99],[3.15,0.99],[2.97,0.75],[3.47,0.5],[3.22,0.47],[2.9,0.33],[3.06,0.24],[2.59,0.24],[2.74,0.61],[-1.95,3.3],[-1.85,3.5],[-1.75,3.65],[-1.65,3.5],[-1.5,3.6],[-1.4,3.45],[-1.25,3.6],[-1.1,3.5],[-0.95,3.45],[-0.85,3.6],[-0.75,3.45],[-0.65,3.55],[-0.55,3.3],[-0.5,3.1],[-0.45,2.9],[0.4,3],[0.5,3.3],[0.6,3.6],[0.75,3.55],[0.9,3.6],[1.05,3.55],[1.2,3.6],[1.35,3.55],[1.55,3.55],[1.7,3.4],[1.85,3.1],[1.95,3.2],[-1.9,3.7],[-1.75,3.8],[1.1,3.75],[0.9,3.75],[1.3,3.75],[2.1,1.3],[2.25,1.25],[2.4,1.2],[2.5,1],[2.6,0.85],[2.65,0.7],[2.6,0.5],[2.5,0.3],[-2.1,1.3],[-2.2,1.25],[-2.3,1.1],[-2.4,0.9],[-2.45,0.7],[-2.5,0.5],[-2.4,0.35],[-2.3,0.25],[-2.7,0.3],[-2.6,0.55]];
const iNoRegion=[[-2.02,3.01],[-1.77,3.39],[-0.63,3.39],[-0.25,2.59],[-0.03,0.8],[0.03,0.8],[0.25,2.59],[0.6,3.48],[1.64,3.48],[1.96,2.87],[1.96,1.36],[2.37,1.08],[2.52,0.42],[1.96,0.22],[0,-0.03],[-2.08,0.19],[-2.4,0.52],[-2.21,1.08],[-2.02,1.32]];
const iUp=[[2.74,4.77],[2.62,4.44],[2.08,4.09],[2.18,4.07],[3.53,4.06],[2.18,3.95],[2.27,3.88],[4.38,3.85],[2.43,3.84],[3.22,3.81],[3.25,3.65],[4.51,3.59],[2.59,3.43],[2.97,3.36],[4.07,3.37],[2.11,3.32],[2.52,3.32],[3.22,3.32],[2.33,3.2],[3.79,3.2],[2.84,3.2],[2.11,3.06],[2.52,3.08],[3.38,3.01],[3.79,2.96],[6.06,2.96],[4.73,2.92],[3.06,2.92],[2.27,2.92],[2.59,2.82],[1.96,2.82],[2.9,2.82],[5.05,2.73],[5.96,2.73],[4.79,2.66],[2.11,2.73],[2.43,2.68],[3.79,2.52],[3.09,2.54],[4.79,2.53],[6.21,2.46],[2.11,2.49],[2.59,2.49],[4.73,2.45],[4.92,2.21],[2.43,2.35],[2.9,2.3],[2.11,2.3],[3.6,2.21],[9.12,2.14],[2.27,2.16],[3.22,2.12],[2.59,2.12],[3.91,2.02],[2.11,2.02],[2.9,1.98],[3.38,2.02],[2.43,1.93],[2.02,1.83],[2.74,1.79],[3.22,1.83],[2.27,1.69],[2.59,1.65],[2.11,1.6],[2.9,1.55],[4.79,1.53],[4.86,1.44],[3.69,1.5],[3.79,1.38],[4.79,1.38],[2.33,1.46],[2.02,1.46],[2.11,1.36],[2.59,1.36],[3.12,1.46],[2.74,1.41],[2.97,1.36]];

// ---------- Appearance ----------
const GREEN='#00B03C', BLUE='#619CFF', RED='#F8766D';
const panels=[
 {id:'GSE24519',letter:'A',box:[16,9,222.7,241.7],xr:[-6.89,13.37],yr:[-1.18,26.26],xt:xTicksA,yt:yTicksA,cut:2,ly:113,lx:231,keyX:235,lettX:232,lettY:225,
  s:[['Down',GREEN,aDown,aDownRegion],['No.',BLUE,aNo,aNoRegion],['Up',RED,aUp,aUpRegion]]},
 {id:'GSE98895',letter:'B',box:[275,9,485,241.7],xr:[-6.49,4.53],yr:[-0.377,8.4],xt:xTicksB,yt:yTicksB,cut:2,ly:113,lx:492,keyX:496.7,lettX:491.7,lettY:225,
  s:[['Down',GREEN,bDown],['No.',BLUE,bNo,bNoRegion],['Up',RED,bUp]]},
 {id:'GSE23561',letter:'C',box:[536.3,9,746.3,241.7],xr:[-6.52,4.52],yr:[-0.377,8.4],xt:xTicksC,yt:yTicksC,cut:2,ly:113,lx:753.7,keyX:758,lettX:749,lettY:225,
  s:[['Down',GREEN,cDown],['No.',BLUE,cNo,cNoRegion],['Up',RED,cUp]]},
 {id:'GSE56885',letter:'D',box:[13.3,270.7,222.7,503.3],xr:[-4.4,4.38],yr:[-0.188,4.195],xt:xTicksD,yt:yTicksD,cut:2,ly:374,lx:230.7,keyX:234.7,lettX:233,lettY:486,
  s:[['Down',GREEN,dDown],['No.',BLUE,dNo,dNoRegion],['Up',RED,dUp]]},
 {id:'GSE49823',letter:'E',box:[275,270.7,485,503.3],xr:[-2.6,10.63],yr:[-0.235,5.24],xt:xTicksE,yt:yTicksE,cut:1.2,dec:1,ly:378,lx:492,keyX:496.7,lettX:491,lettY:486,
  s:[['No.',GREEN,eNo],['Up',BLUE,eUp]]},
 {id:'GSE98896',letter:'F',box:[536.3,270.7,746.3,503.3],xr:[-3.3,3.3],yr:[-0.33,7.34],xt:xTicksF,yt:yTicksF,cut:1.2,ly:374,lx:753.7,keyX:758,lettX:750,lettY:486,
  s:[['Down',GREEN,fDown],['No.',BLUE,fNo,fNoRegion],['Up',RED,fUp]]},
 {id:'GSE53675',letter:'G',box:[13.3,532.3,222.7,765],xr:[-8.85,9.79],yr:[-0.39,8.38],xt:xTicksG,yt:yTicksG,cut:1.2,ly:635.3,lx:230.7,keyX:234.7,lettX:233,lettY:748,
  s:[['Down',GREEN,gDown],['No.',BLUE,gNo],['Up',RED,gUp]]},
 {id:'GSE85192',letter:'H',box:[275,532.3,485,765],xr:[-5.48,5.48],yr:[-0.24,5.24],xt:xTicksH,yt:yTicksH,cut:2,dec:1,ly:639.3,lx:492,keyX:496.7,lettX:494,lettY:748,
  s:[['Down',GREEN,hDown,hDownRegion],['No.',BLUE,hNo,hNoRegion]]},
 {id:'GSE104815',letter:'I',box:[536.3,532.3,746.3,765],xr:[-8.96,10.98],yr:[-0.28,6.28],xt:xTicksI,yt:yTicksI,cut:2,ly:635.3,lx:753.7,keyX:758,lettX:757,lettY:748,
  s:[['Down',GREEN,iDown,iDownRegion],['No.',BLUE,iNo,iNoRegion],['Up',RED,iUp]]}
];
const KEY=8.3;
function minorOf(t,r){const step=t[1]-t[0],out=[];for(let v=t[0]-step/2;v<r[1];v+=step){if(v>r[0])out.push(+v.toFixed(4));}return out;}
const grid=[],xAxis=[],yAxis=[],series=[],title=[],legend=[],graphic=[];
const AXCOL='#555';
panels.forEach((p,i)=>{
  const [l,t,r,b]=p.box;
  grid.push({left:l,top:t,width:r-l,height:b-t,backgroundColor:'#EBEBEB',show:true,borderWidth:0,containLabel:false});
  const fmt=v=>p.dec?Number(v).toFixed(p.dec):String(v);
  xAxis.push({gridIndex:i,type:'value',min:p.xr[0],max:p.xr[1],position:'bottom',name:'log\u2082(FC)',nameLocation:'middle',nameGap:11,
    nameTextStyle:{fontSize:5.6,color:'#222',fontFamily:'Liberation Sans'},axisLine:{show:false},
    axisTick:{show:true,length:1.5,lineStyle:{color:'#777',width:0.6},customValues:p.xt},
    axisLabel:{fontSize:4.6,color:AXCOL,margin:3,showMinLabel:true,showMaxLabel:true,customValues:p.xt,formatter:fmt,fontFamily:'Liberation Sans'},
    splitLine:{show:true,lineStyle:{color:'#fff',width:0.9}}});
  xAxis.push({gridIndex:i,type:'value',min:p.xr[0],max:p.xr[1],position:'top',axisLine:{show:false},axisLabel:{show:false},
    axisTick:{show:false,customValues:minorOf(p.xt,p.xr)},splitLine:{show:true,lineStyle:{color:'#F7F7F7',width:0.5}}});
  yAxis.push({gridIndex:i,type:'value',min:p.yr[0],max:p.yr[1],position:'left',name:'\u2212log\u2081\u2080(adj.P.Val)',nameLocation:'middle',nameGap:10,nameRotate:90,
    nameTextStyle:{fontSize:5.6,color:'#222',fontFamily:'Liberation Sans'},axisLine:{show:false},
    axisTick:{show:true,length:1.5,lineStyle:{color:'#777',width:0.6},customValues:p.yt},
    axisLabel:{fontSize:4.6,color:AXCOL,margin:3,customValues:p.yt,formatter:v=>String(v),fontFamily:'Liberation Sans'},
    splitLine:{show:true,lineStyle:{color:'#fff',width:0.9}}});
  yAxis.push({gridIndex:i,type:'value',min:p.yr[0],max:p.yr[1],position:'right',axisLine:{show:false},axisLabel:{show:false},
    axisTick:{show:false,customValues:minorOf(p.yt,p.yr)},splitLine:{show:true,lineStyle:{color:'#F7F7F7',width:0.5}}});
  const ax={xAxisIndex:2*i,yAxisIndex:2*i};
  p.s.forEach((s,k)=>{
    const [name,color,pts,region]=s;
    const sc={type:'scatter',name,data:pts,...ax,symbol:'circle',symbolSize:3.1,itemStyle:{color,opacity:1},z:3,silent:true,animation:false};
    if(k===0){sc.markLine={silent:true,symbol:['none','none'],animation:false,label:{show:false},
      lineStyle:{color:'#3a3a3a',width:0.8,type:[3,1.5,1,1.5],opacity:1},
      data:[{xAxis:-p.cut},{xAxis:p.cut},{yAxis:1.3}]};}
    series.push(sc);
    if(region){series.push({type:'custom',name,data:region,...ax,silent:true,animation:false,z:2,encode:{x:0,y:1},clip:true,
      renderItem:(params,api)=>{ if(params.dataIndex!==0)return null;
        return {type:'polygon',shape:{points:region.map(v=>api.coord(v))},style:{fill:color,stroke:color,lineWidth:1.6,lineJoin:'round'}};}});}
  });
  title.push({text:'Volcanoplot for '+p.id,left:l,top:t-9.5,padding:0,textStyle:{fontSize:6.6,fontWeight:'normal',color:'#111',fontFamily:'Liberation Sans'}});
  title.push({text:'Significant',left:p.lx,top:p.ly-3,padding:0,textStyle:{fontSize:5.6,fontWeight:'normal',color:'#222',fontFamily:'Liberation Sans'}});
  title.push({text:p.letter,left:p.lettX,top:p.lettY,padding:0,textStyle:{fontSize:23,fontWeight:'normal',color:'#000',fontFamily:'Liberation Sans'}});
  const n=p.s.length, keyTop=p.ly+4.3;
  graphic.push({type:'rect',silent:true,shape:{x:p.keyX-4.1,y:keyTop,width:8.2,height:n*KEY},style:{fill:'#F2F2F2'}});
  legend.push({left:p.keyX-1.5,top:keyTop+KEY/2-2.5,orient:'vertical',padding:0,itemWidth:3,itemHeight:3,itemGap:KEY-5,selectedMode:false,icon:'circle',
    textStyle:{fontSize:4.6,color:'#333',fontFamily:'Liberation Sans',lineHeight:5},
    data:p.s.map(s=>({name:s[0],icon:'circle',itemStyle:{color:s[1]}}))});
});
const chart=echarts.init(document.getElementById('c'),null,{renderer:'canvas'});
chart.setOption({animation:false,backgroundColor:'#fff',grid,xAxis,yAxis,series,title,legend,graphic:{elements:graphic},tooltip:{show:false}});
</script></body></html>
